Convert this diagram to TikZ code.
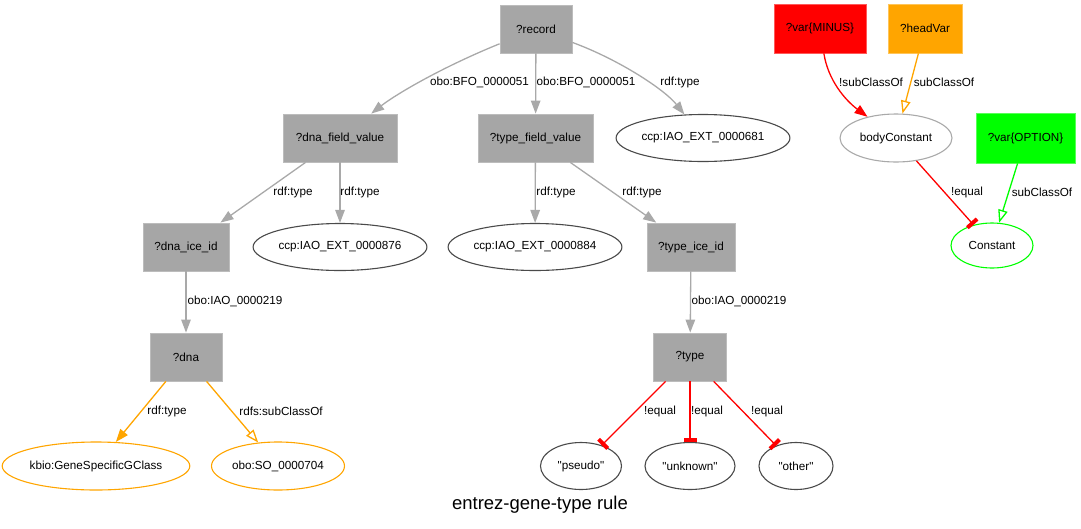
\documentclass[tikz,border=0pt]{standalone}
\usepackage{fontspec}
\setmainfont{Liberation Sans}
\usetikzlibrary{arrows.meta,shapes.geometric}
\definecolor{boxgray}{HTML}{A6A6A6}
\definecolor{edgegray}{HTML}{A9A9A9}
\definecolor{ellgray}{HTML}{4A4A4A}
\definecolor{gvorange}{HTML}{FFA500}
\definecolor{gvred}{HTML}{FF0000}
\definecolor{gvgreen}{HTML}{00FF00}
\tikzset{
  base/.style={font=\fontsize{11.7}{13}\selectfont, inner sep=0pt, text=black},
  gbox/.style={base, rectangle, fill=boxgray, draw=boxgray!75!white, line width=0.8pt, minimum height=48pt},
  rbox/.style={base, rectangle, fill=gvred, draw=gvred!65!white, line width=0.8pt, minimum height=48pt},
  obox/.style={base, rectangle, fill=gvorange, draw=gvorange!65!white, line width=0.8pt, minimum height=48pt},
  vbox/.style={base, rectangle, fill=gvgreen, draw=gvgreen!65!white, line width=0.8pt, minimum height=48pt},
  ell/.style={base, ellipse, draw=ellgray, line width=1.1pt, minimum height=47pt},
  lbl/.style={base},
  arr/.style={-{Triangle[length=13pt,width=9.5pt]}},
  oarr/.style={-{Triangle[open,length=13pt,width=9.5pt]}},
  tarr/.style={-{Rectangle[length=4pt,width=13pt]}},
  gedge/.style={draw=edgegray, line width=1.3pt, arr},
  oedge/.style={draw=gvorange, line width=1.3pt},
  redge/.style={draw=gvred, line width=1.3pt},
  vedge/.style={draw=gvgreen, line width=1.3pt},
}
\begin{document}
\begin{tikzpicture}[x=1pt,y=-1pt]
\useasboundingbox (0,0) rectangle (1081,528);
% nodes
\node[gbox, minimum width=72pt] (record) at (536,29) {?record};
\node[gbox, minimum width=114pt] (dnafv) at (340,138) {?dna\_field\_value};
\node[gbox, minimum width=115pt] (typefv) at (535.5,138) {?type\_field\_value};
\node[ell, minimum width=172pt] (iao681) at (703,138) {ccp:IAO\_EXT\_0000681};
\node[gbox, minimum width=86pt] (dnaice) at (186,247) {?dna\_ice\_id};
\node[ell, minimum width=170pt] (iao876) at (340,247) {ccp:IAO\_EXT\_0000876};
\node[ell, minimum width=170pt] (iao884) at (535,247) {ccp:IAO\_EXT\_0000884};
\node[gbox, minimum width=88pt] (typeice) at (691,247) {?type\_ice\_id};
\node[gbox, minimum width=72pt] (dna) at (186,357) {?dna};
\node[gbox, minimum width=73pt] (type) at (690,357) {?type};
\node[ell, draw=gvorange, minimum width=184pt, minimum height=48pt] (kbio) at (96,466) {kbio:GeneSpecificGClass};
\node[ell, draw=gvorange, minimum width=133pt, minimum height=48pt] (so) at (278,466) {obo:SO\_0000704};
\node[ell, minimum width=81pt] (pseudo) at (581,466) {\textquotedbl pseudo\textquotedbl};
\node[ell, minimum width=90pt] (unknown) at (690,466) {\textquotedbl unknown\textquotedbl};
\node[ell, minimum width=74pt] (other) at (796,466) {\textquotedbl other\textquotedbl};
\node[rbox, minimum width=92pt, minimum height=49pt] (minus) at (820,28.5) {?var\{MINUS\}};
\node[obox, minimum width=74pt, minimum height=49pt] (headvar) at (925,28.5) {?headVar};
\node[ell, draw=edgegray, minimum width=112pt, minimum height=48pt] (bodyc) at (896,138) {bodyConstant};
\node[vbox, minimum width=99pt, minimum height=50pt] (option) at (1025.5,138) {?var\{OPTION\}};
\node[ell, draw=gvgreen, minimum width=82pt, minimum height=45pt] (const) at (992,245.5) {Constant};
\node[base, font=\fontsize{18.5}{20}\selectfont] (title) at (540,505) {entrez-gene-type rule};
% edges
\draw[gedge] (record) .. controls (440,68) and (395,95) .. (dnafv);
\draw[gedge] (record) -- (typefv);
\draw[gedge] (record) .. controls (620,60) and (665,90) .. (iao681);
\draw[gedge] (dnafv) -- (dnaice);
\draw[gedge] (dnafv) -- (iao876);
\draw[gedge] (typefv) -- (iao884);
\draw[gedge] (typefv) -- (typeice);
\draw[gedge] (dnaice) -- (dna);
\draw[gedge] (typeice) -- (type);
\draw[oedge, arr] (dna) -- (kbio);
\draw[oedge, oarr] (dna) -- (so);
\draw[redge, tarr] (type) -- (pseudo);
\draw[redge, tarr] (type) -- (unknown);
\draw[redge, tarr] (type) -- (other);
\draw[redge, arr] (minus) .. controls (828,80) and (845,100) .. (bodyc);
\draw[oedge, oarr] (headvar) -- (bodyc);
\draw[redge, tarr] (bodyc) -- (const);
\draw[vedge, oarr] (option) -- (const);
% labels
\node[lbl] (l1) at (479.5,82) {obo:BFO\_0000051};
\node[lbl] (l2) at (586,82) {obo:BFO\_0000051};
\node[lbl] (l3) at (680,82) {rdf:type};
\node[lbl] (l4) at (293,192) {rdf:type};
\node[lbl] (l5) at (360,192) {rdf:type};
\node[lbl] (l6) at (556,192) {rdf:type};
\node[lbl] (l7) at (642,192) {rdf:type};
\node[lbl] (l8) at (235,301) {obo:IAO\_0000219};
\node[lbl] (l9) at (739,301) {obo:IAO\_0000219};
\node[lbl] (l10) at (167,411) {rdf:type};
\node[lbl] (l11) at (281,411) {rdfs:subClassOf};
\node[lbl] (l12) at (660,411) {!equal};
\node[lbl] (l13) at (707,411) {!equal};
\node[lbl] (l14) at (767,411) {!equal};
\node[lbl] (l15) at (871,82) {!subClassOf};
\node[lbl] (l16) at (944,82) {subClassOf};
\node[lbl] (l17) at (967,192) {!equal};
\node[lbl] (l18) at (1042,192) {subClassOf};
\end{tikzpicture}
\end{document}
